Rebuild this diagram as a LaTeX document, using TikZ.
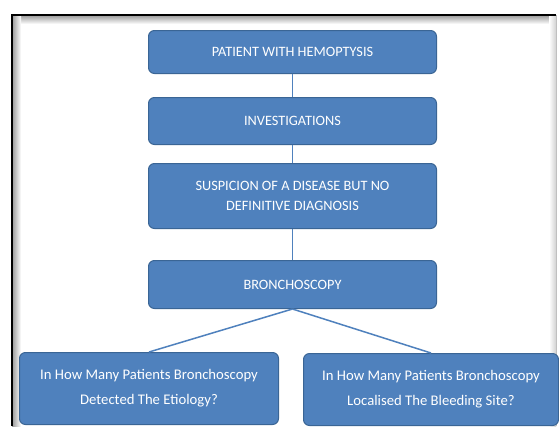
\documentclass[tikz,border=0pt]{standalone}
\usepackage{fontspec}
\setmainfont{Carlito}
\definecolor{boxblue}{HTML}{4F81BD}
\definecolor{boxedge}{HTML}{3A6595}
\begin{document}
\begin{tikzpicture}[x=1pt,y=-1pt,
  box/.style={draw=boxedge, line width=1pt, fill=boxblue, rounded corners=6pt,
    text=white, font=\fontsize{14.3}{20}\selectfont, align=center,
    inner sep=0pt, anchor=north west},
  qbox/.style={box, font=\fontsize{14.7}{25}\selectfont},
  link/.style={draw=boxblue, line width=1.5pt}]
\useasboundingbox (0,0) rectangle (559,426);
% frame with inner shadow
\fill[white] (12,15) rectangle (556,426);
\shade[top color=black!40, bottom color=white] (12,15) rectangle (556,24);
\shade[left color=black!40, right color=white] (12,15) rectangle (21,426);
\shade[left color=white, right color=black!18] (549,15) rectangle (556,426);
\draw[black!25, line width=0.8pt] (556,15) -- (556,426);
\draw[black, line width=1.6pt] (12,426) -- (12,15) -- (556,15);
% boxes
\node[box, minimum width=288pt, minimum height=43pt] (p) at (148,30) {PATIENT WITH HEMOPTYSIS};
\node[box, minimum width=288pt, minimum height=47pt] (i) at (148,97) {INVESTIGATIONS};
\node[box, minimum width=288pt, minimum height=65pt] (s) at (148,163) {SUSPICION OF A DISEASE BUT NO\\DEFINITIVE DIAGNOSIS};
\node[box, minimum width=288pt, minimum height=48pt] (b) at (148,260) {BRONCHOSCOPY};
\node[qbox, minimum width=259pt, minimum height=72pt] (l) at (19,352) {In How Many Patients Bronchoscopy\\Detected The Etiology?};
\node[qbox, minimum width=255pt, minimum height=72pt] (r) at (303,353) {In How Many Patients Bronchoscopy\\Localised The Bleeding Site?};
% connectors
\draw[link] (p.south) -- (i.north);
\draw[link] (i.south) -- (s.north);
\draw[link] (s.south) -- (b.north);
\draw[link] (b.south) -- (l.north);
\draw[link] (b.south) -- (r.north);
\end{tikzpicture}
\end{document}
